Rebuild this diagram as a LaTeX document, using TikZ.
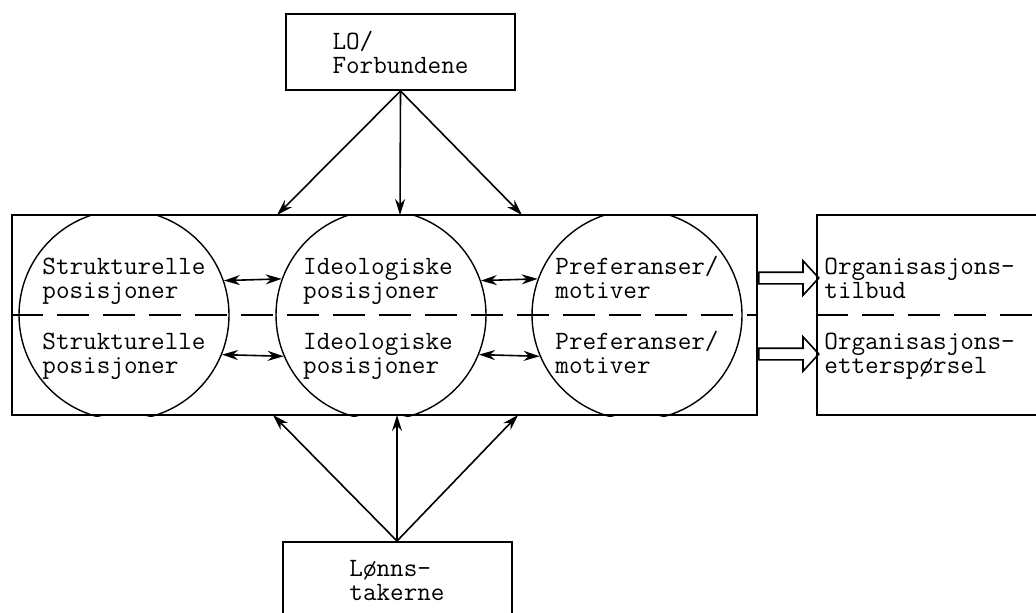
\documentclass[tikz,border=0pt]{standalone}
\usepackage{fontspec}
\usepackage{tikz}
\usetikzlibrary{arrows.meta,shapes.arrows}

\begin{document}
\begin{tikzpicture}[x=0.5pt,y=-0.5pt,>={Stealth[length=8pt,width=5pt]},
    font=\fontsize{13.2}{12}\selectfont\ttfamily]
  \tikzstyle{box}=[draw,line width=1pt,inner sep=0pt,align=left]
  \tikzstyle{actor}=[box,minimum width=114.5pt,minimum height=38pt]
  \tikzstyle{posisjon}=[circle,draw,line width=0.7pt,minimum size=105pt,inner sep=0pt]
  \tikzstyle{txt}=[align=left,inner sep=0pt]
  \tikzstyle{link}=[->,line width=0.8pt]
  \tikzstyle{flow}=[single arrow,draw,line width=0.8pt,inner sep=2.5pt,
    minimum height=30pt,single arrow head extend=5.75pt,
    single arrow tip angle=95,anchor=tail]
  \tikzstyle{divider}=[dash pattern=on 16pt off 7pt,line width=0.9pt]

  \useasboundingbox (0,0) rectangle (1036,612);

   
  \node[actor] (lo) at (400.5,52) {LO/\\Forbundene};
  \node[actor] (lonn) at (397,580) {Lønns-\\takerne};

   
  \node[box,minimum width=372.5pt,minimum height=100pt] (frame) at (384.5,315) {};
  \node[box,minimum width=122pt,minimum height=100pt] (org) at (939,315) {};

   
  \begin{scope}
    \clip (frame.north west) rectangle (frame.south east);
    \node[posisjon] (struk) at (124,315) {};
    \node[posisjon] (ideo) at (381,315) {};
    \node[posisjon] (pref) at (637,315) {};
  \end{scope}

   
  \draw[divider] (frame.west) -- (frame.east);
  \draw[divider] (org.west) -- (org.east);

   
  \node[txt,anchor=base] (s1) at (124,298) {Strukturelle\\posisjoner};
  \node[txt,anchor=base] (s2) at (124,373) {Strukturelle\\posisjoner};
  \node[txt,anchor=base] (i1) at (378,298) {Ideologiske\\posisjoner};
  \node[txt,anchor=base] (i2) at (378,373) {Ideologiske\\posisjoner};
  \node[txt,anchor=base] (p1) at (637,298) {Preferanser/\\motiver};
  \node[txt,anchor=base] (p2) at (637,373) {Preferanser/\\motiver};
  \node[txt,anchor=base west] (tilbud) at (824,298) {Organisasjons-\\tilbud};
  \node[txt,anchor=base west] (ettersp) at (824,373) {Organisasjons-\\etterspørsel};

   
  \coordinate (t1) at (277,215);
  \coordinate (t2) at (400,215);
  \coordinate (t3) at (522,215);
  \coordinate (b1) at (273,415);
  \coordinate (b2) at (397,415);
  \coordinate (b3) at (518,415);
  \coordinate (rowA) at (0,278);
  \coordinate (rowB) at (0,354);

   
  \draw[link] (lo.south) -- (t1);
  \draw[link] (lo.south) -- (t2);
  \draw[link] (lo.south) -- (t3);
  \draw[link] (lonn.north) -- (b1);
  \draw[link] (lonn.north) -- (b2);
  \draw[link] (lonn.north) -- (b3);

   
  \draw[link,<->] (struk.19.5) -- (ideo.160.5);
  \draw[link,<->] (struk.-22.4) -- (ideo.-157.6);
  \draw[link,<->] (ideo.19.5) -- (pref.160.5);
  \draw[link,<->] (ideo.-22.4) -- (pref.-157.6);

   
  \node[flow] (tilbudpil) at (frame.east |- rowA) {};
  \node[flow] (etterpil) at (frame.east |- rowB) {};
\end{tikzpicture}
\end{document}
